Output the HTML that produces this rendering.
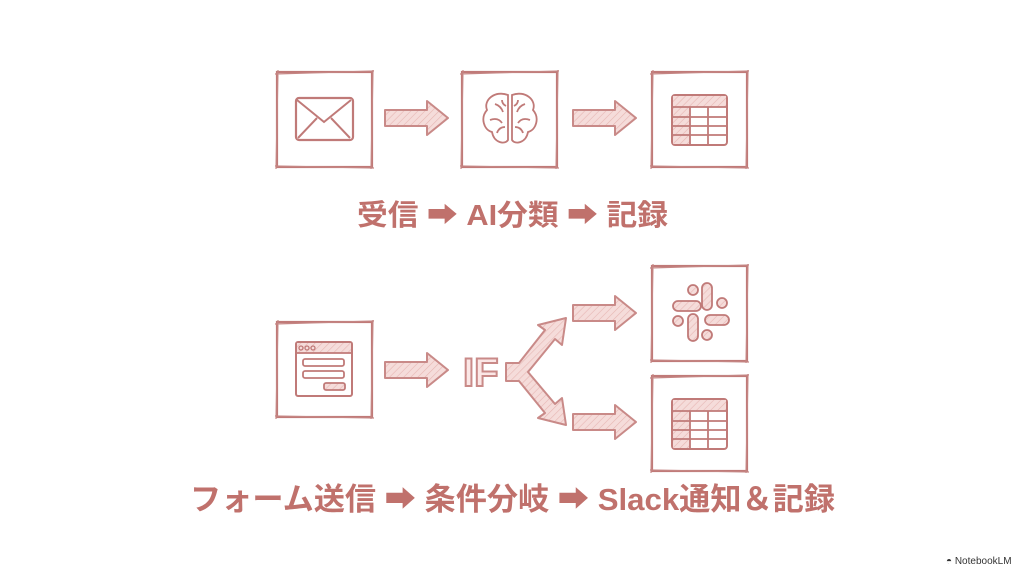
<!DOCTYPE html>
<html><head><meta charset="utf-8">
<style>
html,body{margin:0;padding:0;background:#fff;width:1024px;height:572px;overflow:hidden}
svg{display:block}
.t{font-family:"Liberation Sans","Noto Sans CJK JP",sans-serif;font-weight:bold;fill:#c0716c}
</style></head><body>
<svg width="1024" height="572" viewBox="0 0 1024 572" xmlns="http://www.w3.org/2000/svg">
<defs>
<pattern id="h" width="5" height="5" patternUnits="userSpaceOnUse" patternTransform="rotate(45)">
<rect width="5" height="5" fill="#f5dcda"/><line x1="0" y1="0" x2="0" y2="5" stroke="#e6b6b3" stroke-width="1.2"/>
</pattern>
<g id="box"><rect x="0" y="0" width="95" height="95" fill="none" stroke="#c07a78" stroke-width="2.2"/><path d="M-2,2 L97,-1 M1,-2 L-1,97 M96,-2 L94,97 M-2,94 L97,96" fill="none" stroke="#c58684" stroke-width="1.2"/></g>
<g id="arr"><path d="M0,9 L42,9 L42,0 L63,17 L42,34 L42,25 L0,25 Z" fill="url(#h)" stroke="#c98a88" stroke-width="2" stroke-linejoin="round"/></g>
<g id="tbl"><rect x="0" y="0" width="55" height="50" rx="3" fill="#fff" stroke="#c07a78" stroke-width="2"/><rect x="1" y="1" width="53" height="11" fill="url(#h)"/><rect x="1" y="12" width="17" height="37" fill="url(#h)"/>
<path d="M0,12H55M0,22H55M0,31H55M0,40H55M18,12V50M36,12V50" stroke="#c07a78" stroke-width="1.8" fill="none"/></g>
</defs>
<!-- top row -->
<use href="#box" x="277" y="72"/>
<use href="#box" x="462" y="72"/>
<use href="#box" x="652" y="72"/>
<rect x="296" y="98" width="57" height="42" rx="3" fill="none" stroke="#c07a78" stroke-width="2.2"/>
<path d="M297,100 L324,122 L351,100 M298,138 L317,118 M350,138 L331,118" fill="none" stroke="#c07a78" stroke-width="2"/>
<g fill="none" stroke="#c07a78" stroke-width="1.8">
<path d="M508,95 C495,90 483,100 487,110 C480,118 484,130 492,132 C494,143 505,145 508,140 Z"/>
<path d="M512,95 C525,90 537,100 533,110 C540,118 536,130 528,132 C526,143 515,145 512,140 Z"/>
<path d="M495,104 q6,2 8,8 M490,120 q8,-3 12,3 M497,133 q2,-6 8,-6 M525,104 q-6,2 -8,8 M530,120 q-8,-3 -12,3 M523,133 q-2,-6 -8,-6 M502,100 q0,4 4,6 M518,100 q0,4 -4,6"/>
</g>
<use href="#tbl" x="672" y="95"/>
<use href="#arr" x="385" y="101"/>
<use href="#arr" x="573" y="101"/>
<text class="t" x="357" y="225" font-size="29" textLength="311" lengthAdjust="spacingAndGlyphs">受信 ➡ AI分類 ➡ 記録</text>
<!-- bottom -->
<use href="#box" x="277" y="322"/>
<rect x="296" y="342" width="56" height="54" rx="2" fill="#fff" stroke="#c07a78" stroke-width="2"/>
<rect x="297" y="343" width="54" height="10" fill="url(#h)"/>
<line x1="296" y1="353" x2="352" y2="353" stroke="#c07a78" stroke-width="1.8"/>
<g fill="none" stroke="#c07a78" stroke-width="1.3"><circle cx="301" cy="348" r="2"/><circle cx="307" cy="348" r="2"/><circle cx="313" cy="348" r="2"/></g>
<rect x="303" y="359" width="41" height="7" rx="2" fill="none" stroke="#c07a78" stroke-width="1.8"/>
<rect x="303" y="371" width="41" height="7" rx="2" fill="none" stroke="#c07a78" stroke-width="1.8"/>
<rect x="324" y="383" width="21" height="7" rx="2" fill="url(#h)" stroke="#c07a78" stroke-width="1.8"/>
<use href="#arr" x="385" y="353"/>
<text x="463" y="386" font-size="40" font-family="Liberation Sans,sans-serif" font-weight="bold" fill="#fbe7e6" stroke="#c98a88" stroke-width="2">IF</text>
<path d="M506,363 L519,363 L545,330 L538,325 L566,318 L562,345 L555,339 L528,372 L555,404 L562,398 L566,425 L538,418 L545,413 L519,381 L506,381 Z" fill="url(#h)" stroke="#c98a88" stroke-width="2" stroke-linejoin="round"/>
<use href="#arr" x="573" y="296"/>
<use href="#arr" x="573" y="405"/>
<use href="#box" x="652" y="266"/>
<use href="#box" x="652" y="376"/>
<g fill="url(#h)" stroke="#c07a78" stroke-width="1.8">
<rect x="702" y="283" width="10" height="27" rx="5"/>
<rect x="673" y="301" width="28" height="10" rx="5"/>
<rect x="705" y="315" width="24" height="10" rx="5"/>
<rect x="688" y="314" width="10" height="27" rx="5"/>
<circle cx="693" cy="290" r="5"/><circle cx="722" cy="303" r="5"/><circle cx="678" cy="321" r="5"/><circle cx="707" cy="335" r="5"/>
</g>
<use href="#tbl" x="672" y="399"/>
<text class="t" x="190" y="510" font-size="31" textLength="645" lengthAdjust="spacingAndGlyphs">フォーム送信 ➡ 条件分岐 ➡ Slack通知＆記録</text>
<text x="946" y="564" font-size="10" font-family="Liberation Sans,sans-serif" fill="#333">◓ NotebookLM</text>
</svg>
</body></html>
